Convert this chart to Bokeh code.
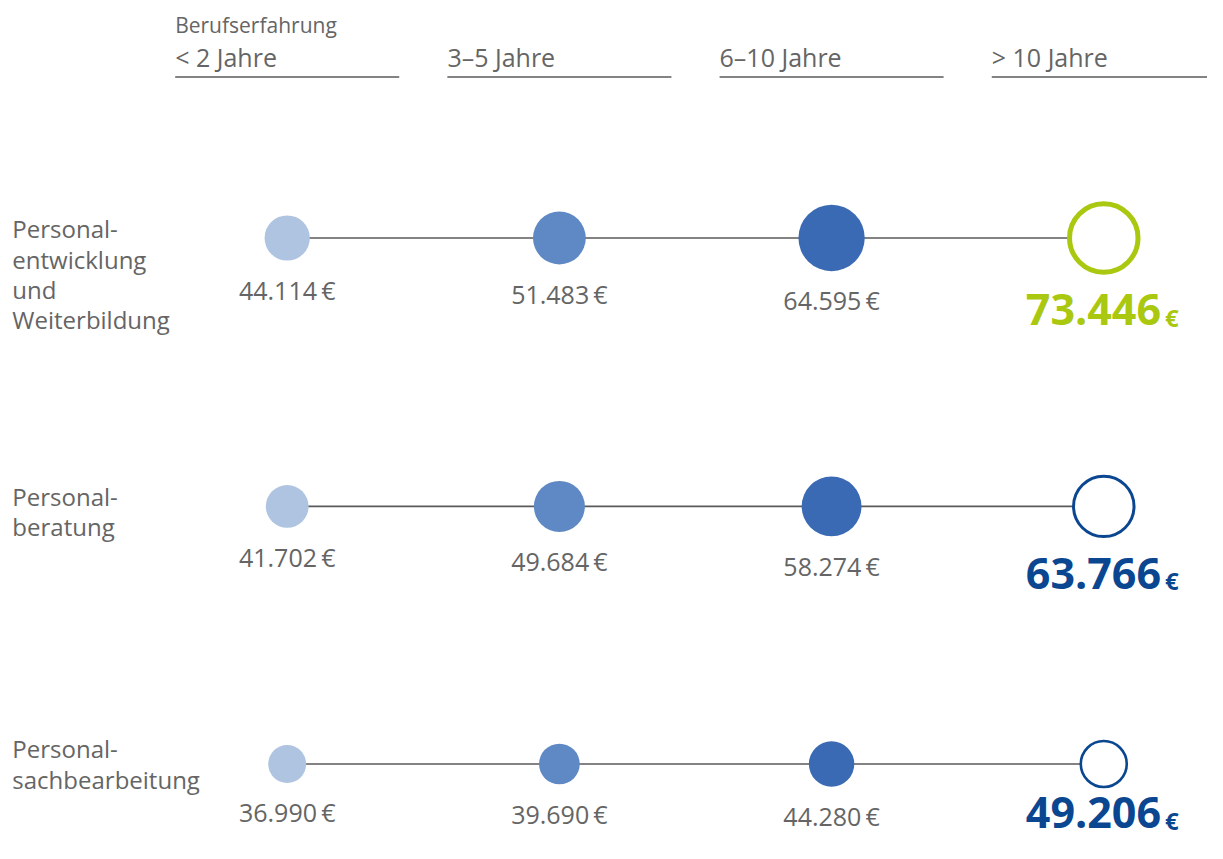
from bokeh.plotting import figure
from bokeh.models import Range1d, ColumnDataSource
from bokeh.embed import file_html
from bokeh.resources import INLINE
from bokeh.core.properties import value

# ---------------- data ----------------
header_title = "Berufserfahrung"
experience = ["< 2 Jahre", "3–5 Jahre", "6–10 Jahre", "> 10 Jahre"]
categories = ["Personal-\nentwicklung\nund\nWeiterbildung",
              "Personal-\nberatung",
              "Personal-\nsachbearbeitung"]
salary_entwicklung = [44114, 51483, 64595, 73446]
salary_beratung = [41702, 49684, 58274, 63766]
salary_sachbearbeitung = [36990, 39690, 44280, 49206]
series = [salary_entwicklung, salary_beratung, salary_sachbearbeitung]

# ---------------- layout / style ----------------
W, H = 1207, 843            # figure size in screen px
VW, VH = 1223, 859          # layout coordinate space
SX, SY = W / VW, H / VH
FONT = "Open Sans"
TEXT_GREY = "#656565"
LINE_GREY = "#5a5a5a"
FILL_COLORS = ["#aec4e1", "#5f89c4", "#3a6ab3"]
RING_COLORS = ["#a9c80f", "#0b4690", "#0b4690"]
RING_WIDTHS = [5, 3, 2.6]
COL0, COL_STEP = 290.5, 275.8
ROW_Y = [242, 515.5, 778]
ROW_LABEL_BASE = [242, 515, 772]
LABEL_LINE_H = 31
PX_PER_EURO = 1.04 / 1000
MAX_BOLD_BASE = 845         # keep the big label inside the picture

def base(y, size_px):
    # bokeh draws the alphabetic baseline a bit low; compensate
    return y - 0.39 * size_px / SY

p = figure(width=W, height=H, x_range=Range1d(0, VW), y_range=Range1d(VH, 0),
           output_backend="svg", toolbar_location=None, min_border=0,
           x_axis_location=None, y_axis_location=None,
           background_fill_color="white", border_fill_color="white")
p.grid.visible = False
p.outline_line_color = None

def fmt(v):
    return f"{v:,}".replace(",", ".")

col_x = [COL0 + COL_STEP * i for i in range(len(experience))]

# header
p.text(x=[col_x[0] - 113.5], y=[base(33, 21)], text=[header_title], text_font=value(FONT),
       text_font_size="21px", text_color=TEXT_GREY, text_baseline="alphabetic", text_align="left")
p.text(x=[c - 113.5 for c in col_x], y=[base(68, 25)] * len(experience), text=experience,
       text_font=value(FONT), text_font_size="25px", text_color=TEXT_GREY,
       text_baseline="alphabetic", text_align="left")
p.segment(x0=[c - 113.5 for c in col_x], x1=[c + 113.5 for c in col_x],
          y0=[78] * 4, y1=[78] * 4, line_color=LINE_GREY, line_width=1.5)

for r, vals in enumerate(series):
    y = ROW_Y[r]
    # row label
    lines = categories[r].split("\n")
    p.text(x=[12] * len(lines),
           y=[base(ROW_LABEL_BASE[r] + LABEL_LINE_H * i, 24) for i in range(len(lines))],
           text=lines, text_font=value(FONT), text_font_size="24px", text_color=TEXT_GREY,
           text_baseline="alphabetic", text_align="left")
    # connector
    p.segment(x0=[col_x[0]], x1=[col_x[-1]], y0=[y], y1=[y], line_color=LINE_GREY, line_width=1.6)
    # filled circles
    n = len(vals) - 1
    diam = [v * PX_PER_EURO for v in vals[:n]]
    src = ColumnDataSource(dict(x=col_x[:n], y=[y] * n, size=[d * SX for d in diam],
                                color=FILL_COLORS,
                                lab=[fmt(v) + "\u2009€" for v in vals[:n]],
                                ly=[base(y + d / 2 + 40, 25) for d in diam]))
    p.scatter(x="x", y="y", size="size", fill_color="color", line_color=None, source=src)
    p.text(x="x", y="ly", text="lab", source=src, text_font=value(FONT), text_font_size="25px",
           text_color=TEXT_GREY, text_baseline="alphabetic", text_align="center")
    # open circle (> 10 Jahre)
    outer = vals[n] * PX_PER_EURO - 2
    lw = RING_WIDTHS[r]
    p.scatter(x=[col_x[n]], y=[y], size=(outer - lw) * SX, fill_color="white",
              line_color=RING_COLORS[r], line_width=lw)
    bl = min(y + outer / 2 + 53, MAX_BOLD_BASE)
    p.text(x=[col_x[n] + 58], y=[base(bl, 43)], text=[fmt(vals[n])], text_font=value(FONT),
           text_font_size="43px", text_font_style="bold", text_color=RING_COLORS[r],
           text_baseline="alphabetic", text_align="right")
    p.text(x=[col_x[n] + 62], y=[base(bl, 24)], text=["€"], text_font=value(FONT),
           text_font_size="24px", text_font_style="bold", text_color=RING_COLORS[r],
           text_baseline="alphabetic", text_align="left")

open("out.html", "w").write(file_html(p, INLINE))
